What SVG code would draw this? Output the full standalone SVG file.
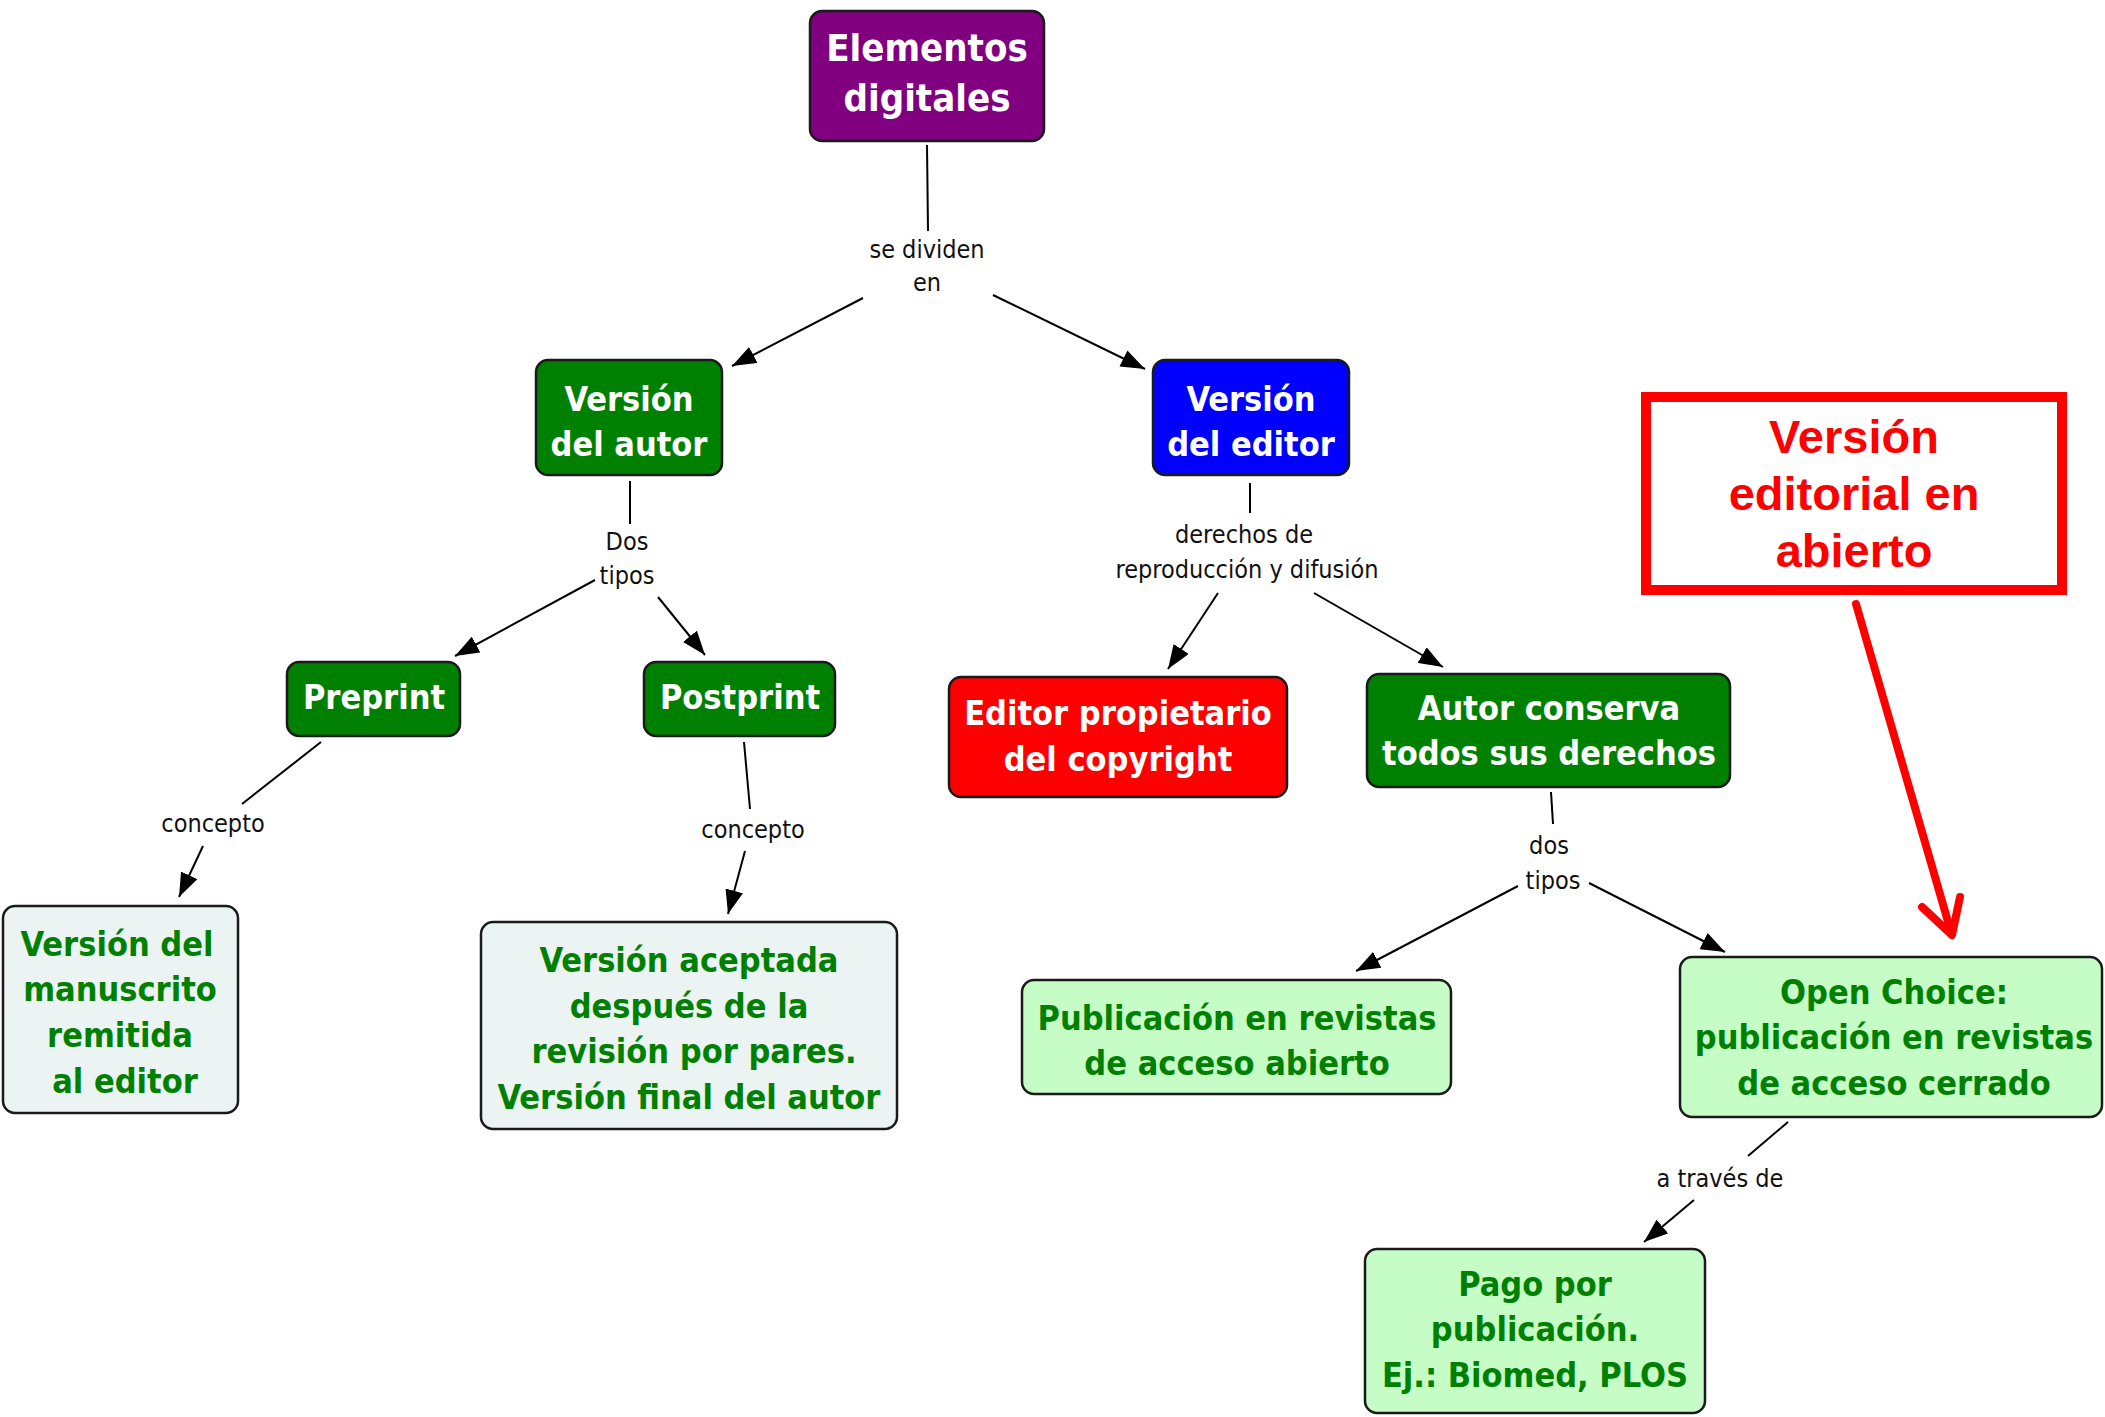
<svg xmlns="http://www.w3.org/2000/svg" width="2105" height="1417" viewBox="0 0 2105 1417">
<defs>
<marker id="ah" viewBox="0 0 24 18" refX="24" refY="9" markerWidth="24" markerHeight="18" markerUnits="userSpaceOnUse" orient="auto">
<path d="M0,0 L24,9 L0,18 z" fill="#000"/>
</marker>
</defs>
<style>
.box{stroke:#1a1a1a;stroke-width:2.5}
.purple{fill:#800080}.green{fill:#008000}.blue{fill:#0000ff}.red{fill:#ff0000}
.pale{fill:#ecf3f3}.lgreen{fill:#c6fcc6}
.t{font-family:"DejaVu Sans Condensed","DejaVu Sans",sans-serif;font-weight:bold;font-size:34px;text-anchor:middle}
.w{fill:#fff}.g{fill:#008000}
.lbl{font-family:"DejaVu Sans Condensed","DejaVu Sans",sans-serif;font-size:25px;text-anchor:middle;fill:#111}
.c{stroke:#000;stroke-width:2;fill:none}
.ca{stroke:#000;stroke-width:2;fill:none;marker-end:url(#ah)}
.note{font-family:"Liberation Sans",Arial,sans-serif;font-weight:bold;font-size:47px;text-anchor:middle;fill:#ff0000}
</style>
<rect width="2105" height="1417" fill="#fff"/>

<g id="connectors">
<line class="c" x1="927" y1="145" x2="928" y2="231"/>
<line class="ca" x1="863" y1="298" x2="732" y2="366"/>
<line class="ca" x1="993" y1="295" x2="1145" y2="369"/>
<line class="c" x1="630" y1="481" x2="630" y2="524"/>
<line class="ca" x1="595" y1="580" x2="455" y2="656"/>
<line class="ca" x1="658" y1="597" x2="705" y2="655"/>
<line class="c" x1="321" y1="742" x2="242" y2="804"/>
<line class="ca" x1="203" y1="846" x2="179" y2="897"/>
<line class="c" x1="744" y1="742" x2="750" y2="809"/>
<line class="ca" x1="745" y1="851" x2="728" y2="914"/>
<line class="c" x1="1250" y1="483" x2="1250" y2="513"/>
<line class="ca" x1="1218" y1="593" x2="1168" y2="669"/>
<line class="ca" x1="1314" y1="593" x2="1443" y2="667"/>
<line class="c" x1="1551" y1="792" x2="1553" y2="824"/>
<line class="ca" x1="1518" y1="886" x2="1356" y2="971"/>
<line class="ca" x1="1589" y1="883" x2="1725" y2="952"/>
<line class="c" x1="1788" y1="1122" x2="1748" y2="1156"/>
<line class="ca" x1="1694" y1="1200" x2="1644" y2="1242"/>
</g>

<g id="labels">
<text class="lbl" x="927" y="258">se dividen</text>
<text class="lbl" x="927" y="291">en</text>
<text class="lbl" x="627" y="550">Dos</text>
<text class="lbl" x="627" y="584">tipos</text>
<text class="lbl" x="213" y="832">concepto</text>
<text class="lbl" x="753" y="838">concepto</text>
<text class="lbl" x="1244" y="543">derechos de</text>
<text class="lbl" x="1247" y="578">reproducción y difusión</text>
<text class="lbl" x="1549" y="854">dos</text>
<text class="lbl" x="1553" y="889">tipos</text>
<text class="lbl" x="1720" y="1187">a través de</text>
</g>

<g id="n-elementos">
<rect class="box purple" x="810" y="11" width="234" height="130" rx="12"/>
<text class="t w" x="927" y="61" style="font-size:38px">Elementos</text>
<text class="t w" x="927" y="111" style="font-size:38px">digitales</text>
</g>

<g id="n-autor">
<rect class="box green" x="536" y="360" width="186" height="115" rx="12"/>
<text class="t w" x="629" y="411">Versión</text>
<text class="t w" x="629" y="456">del autor</text>
</g>

<g id="n-editor">
<rect class="box blue" x="1153" y="360" width="196" height="115" rx="12"/>
<text class="t w" x="1251" y="411">Versión</text>
<text class="t w" x="1251" y="456">del editor</text>
</g>

<g id="n-preprint">
<rect class="box green" x="287" y="662" width="173" height="74" rx="12"/>
<text class="t w" x="374" y="709">Preprint</text>
</g>

<g id="n-postprint">
<rect class="box green" x="644" y="662" width="191" height="74" rx="12"/>
<text class="t w" x="740" y="709">Postprint</text>
</g>

<g id="n-manuscrito">
<rect class="box pale" x="3" y="906" width="235" height="207" rx="12"/>
<text class="t g" x="117" y="956">Versión del</text>
<text class="t g" x="120" y="1001">manuscrito</text>
<text class="t g" x="120" y="1047">remitida</text>
<text class="t g" x="125" y="1093">al editor</text>
</g>

<g id="n-aceptada">
<rect class="box pale" x="481" y="922" width="416" height="207" rx="12"/>
<text class="t g" x="689" y="972">Versión aceptada</text>
<text class="t g" x="689" y="1018">después de la</text>
<text class="t g" x="694" y="1063">revisión por pares.</text>
<text class="t g" x="689" y="1109">Versión final del autor</text>
</g>

<g id="n-copyright">
<rect class="box red" x="949" y="677" width="338" height="120" rx="12"/>
<text class="t w" x="1118" y="725">Editor propietario</text>
<text class="t w" x="1118" y="771">del copyright</text>
</g>

<g id="n-conserva">
<rect class="box green" x="1367" y="674" width="363" height="113" rx="12"/>
<text class="t w" x="1549" y="720">Autor conserva</text>
<text class="t w" x="1549" y="765">todos sus derechos</text>
</g>

<g id="n-abierto">
<rect class="box lgreen" x="1022" y="980" width="429" height="114" rx="12"/>
<text class="t g" x="1237" y="1030">Publicación en revistas</text>
<text class="t g" x="1237" y="1075">de acceso abierto</text>
</g>

<g id="n-openchoice">
<rect class="box lgreen" x="1680" y="957" width="422" height="160" rx="12"/>
<text class="t g" x="1894" y="1004">Open Choice:</text>
<text class="t g" x="1894" y="1049">publicación en revistas</text>
<text class="t g" x="1894" y="1095">de acceso cerrado</text>
</g>

<g id="n-pago">
<rect class="box lgreen" x="1365" y="1249" width="340" height="164" rx="12"/>
<text class="t g" x="1535" y="1296">Pago por</text>
<text class="t g" x="1535" y="1341">publicación.</text>
<text class="t g" x="1535" y="1387">Ej.: Biomed, PLOS</text>
</g>

<g id="n-nota">
<rect x="1646" y="397" width="416" height="193" fill="#fff" stroke="#ff0000" stroke-width="10"/>
<text class="note" x="1854" y="453">Versión</text>
<text class="note" x="1854" y="510">editorial en</text>
<text class="note" x="1854" y="567">abierto</text>
<g stroke="#ff0000" stroke-width="8" stroke-linecap="round" stroke-linejoin="round" fill="none">
<line x1="1856" y1="604" x2="1951" y2="932"/>
<polyline points="1922,907 1952,935 1960,897"/>
</g>
</g>
</svg>
